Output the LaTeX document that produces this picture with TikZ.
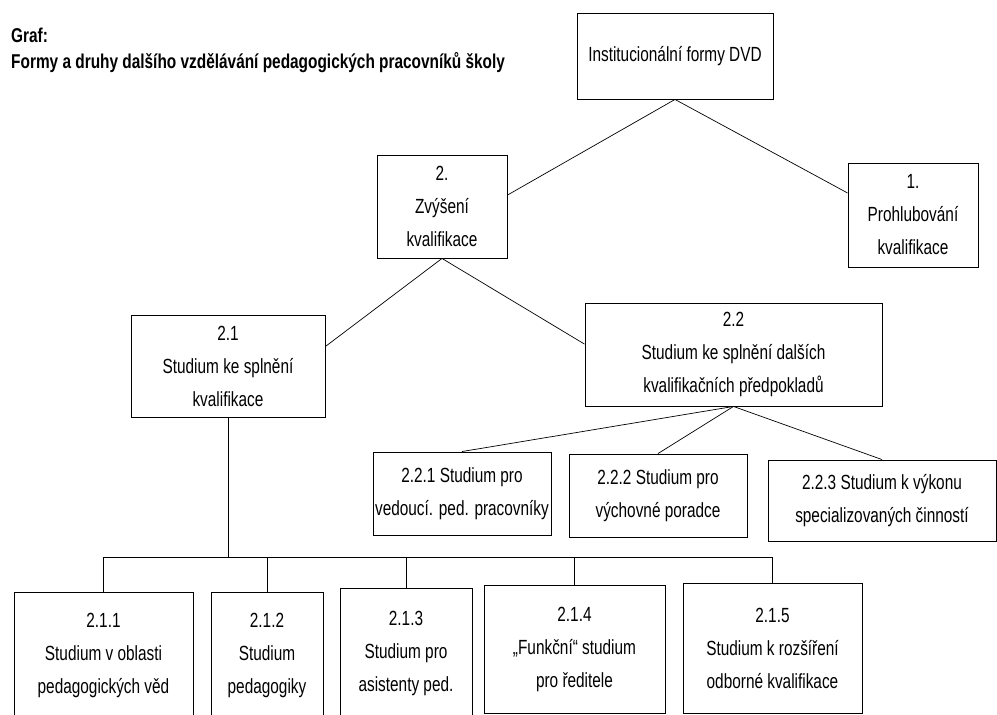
\documentclass[tikz,border=0pt]{standalone}
\usepackage{fontspec}
\setmainfont{Liberation Sans}[FakeStretch=0.75]
\newfontfamily\titlefont{Liberation Sans}[FakeStretch=0.77]
\usetikzlibrary{calc}

\tikzset{
  box/.style={draw=black, line width=0.9pt, rectangle, inner sep=0pt,
    align=center, font=\fontsize{20.5}{33}\selectfont},
  link/.style={draw=black, line width=0.7pt},
  heading/.style={anchor=west, inner sep=0pt,
    font=\titlefont\bfseries\fontsize{20}{24}\selectfont}
}

\begin{document}
\begin{tikzpicture}[x=1pt, y=-1pt]
  \useasboundingbox (0,0) rectangle (997,715);

  % heading
  \node[heading] (graf) at (11,35) {Graf:};
  \node[heading] (nadpis) at (11,63) {Formy a druhy dalšího vzdělávání pedagogických pracovníků školy};

  % levels 0 and 1
  \node[box, minimum width=196pt, minimum height=86pt] (dvd) at (675,56) {Institucionální formy DVD};
  \node[box, minimum width=130pt, minimum height=104pt] (prohl) at (913,215) {1.\\Prohlubování\\kvalifikace};
  \node[box, minimum width=130pt, minimum height=103pt] (zvys) at (442,206.5) {2.\\Zvýšení\\kvalifikace};

  % level 2
  \node[box, minimum width=194pt, minimum height=102pt] (s21) at (228,366) {2.1\\Studium ke splnění\\kvalifikace};
  \node[box, minimum width=297pt, minimum height=103pt] (s22) at (733.5,354.5) {2.2\\Studium ke splnění dalších\\kvalifikačních předpokladů};

  % children of 2.2
  \node[box, minimum width=178pt, minimum height=83pt] (s221) at (462,493.5) {2.2.1 Studium pro\\vedoucí. ped. pracovníky};
  \node[box, minimum width=178pt, minimum height=83pt] (s222) at (658,495.5) {2.2.2 Studium pro\\výchovné poradce};
  \node[box, minimum width=228pt, minimum height=81pt] (s223) at (882,500.5) {2.2.3 Studium k výkonu\\specializovaných činností};

  % children of 2.1
  \node[box, minimum width=179pt, minimum height=126pt] (s211) at (103.5,655) {2.1.1\\Studium v oblasti\\pedagogických věd};
  \node[box, minimum width=112pt, minimum height=126pt] (s212) at (267,655) {2.1.2\\Studium\\pedagogiky};
  \node[box, minimum width=132pt, minimum height=130pt] (s213) at (406,653) {2.1.3\\Studium pro\\asistenty ped.};
  \node[box, minimum width=181pt, minimum height=128pt] (s214) at (574.5,649) {2.1.4\\„Funkční“ studium\\pro ředitele};
  \node[box, minimum width=179pt, minimum height=130pt] (s215) at (772.5,648) {2.1.5\\Studium k rozšíření\\odborné kvalifikace};

  % connectors
  \draw[link] (dvd.south) -- ($(zvys.north east)!0.39!(zvys.south east)$);
  \draw[link] (dvd.south) -- ($(prohl.north west)!0.29!(prohl.south west)$);
  \draw[link] (zvys.south) -- ($(s21.north east)!0.31!(s21.south east)$);
  \draw[link] (zvys.south) -- ($(s22.north west)!0.40!(s22.south west)$);
  \draw[link] (s22.south) -- (s221.north);
  \draw[link] (s22.south) -- (s222.north);
  \draw[link] (s22.south) -- (s223.north);

  % bus below 2.1
  \coordinate (bus) at (0,557);
  \draw[link] (s21.south) -- (s21.south |- bus);
  \draw[link] (s211.north) -- (s211.north |- bus) -- (s215.north |- bus) -- (s215.north);
  \draw[link] (s212.north) -- (s212.north |- bus);
  \draw[link] (s213.north) -- (s213.north |- bus);
  \draw[link] (s214.north) -- (s214.north |- bus);
\end{tikzpicture}
\end{document}
